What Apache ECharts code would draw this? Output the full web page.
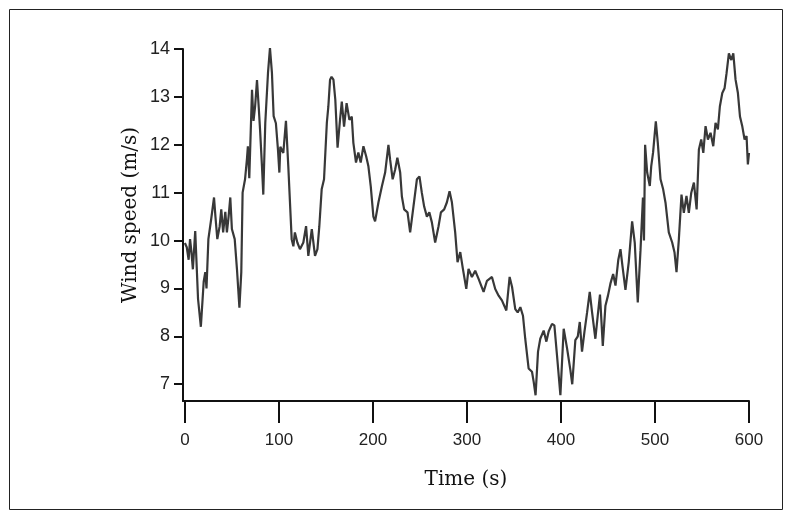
<!DOCTYPE html>
<html>
<head>
<meta charset="utf-8">
<script src="https://cdn.jsdelivr.net/npm/echarts@6/dist/echarts.min.js"></script>
<style>
html,body{margin:0;padding:0;background:#fff;}
#chart{width:792px;height:519px;}
</style>
</head>
<body>
<div id="chart"></div>
<script>
// Time (s)
var timeSec = [0,2,4,5.5,7,8.5,11,14,17,20,21.7,23,25,28,31,32.5,34.5,37,38.7,40.7,43,44.7,46.5,48.3,50,53,55.4,58,60,61.4,64,66,67,68.5,71.4,73,74.7,76.7,78.5,80,82,83.4,85.5,88.4,90.5,92.6,94.4,96.8,99,100.5,101.5,104.7,107.5,110,113.6,115.4,117,119.6,122.4,126,128.9,131.3,135,138.4,141,143,145.5,148,151,152.6,154.4,156,158,160,162.4,165,166.9,169.3,172,175,177.5,179.2,182,184.5,187,189.9,192.8,195.2,197.7,200.5,202.3,205.9,209.5,213,216.5,218.3,221,223.6,226,229,230.8,233.2,236.8,239.6,243.1,246.8,249.5,252,254.5,257.4,260,262.7,266.2,269.8,272.3,275.8,278.7,281.5,284,287.5,290,292.9,295.7,299.3,301.7,305.3,308.8,312.4,317.7,321.3,326.6,330.1,333.7,337.2,341.9,345.4,348,351.4,354,356.8,359.6,362,365.6,369.2,371,373,375.6,378,381.6,384.5,386.9,390.5,393,395.8,399.4,402.9,406.5,410,412,415.3,417.9,420,422.4,425,427.8,430.6,433.1,436.6,439.1,441.5,444.5,447.3,450,452.6,455.5,458,461,463.3,465.4,468.6,472.1,475.7,478.5,481.7,484.6,487.2,488.3,489.5,491.7,494.5,496,498,500.9,503,505.9,508.7,511.2,514.7,518.3,520.8,522.9,525.4,528.2,530.7,533.5,536,538.6,541.4,544.3,546.7,549.2,551.4,553.8,556.3,559.1,562,564.4,566.9,569,571.6,574,576.1,578.6,581.2,583.3,585.7,588.2,590.4,592.9,595.3,597.4,598.8,600];
// Wind speed (m/s)
var windSpeed = [9.95,9.86,9.6,10.03,9.76,9.4,10.2,8.78,8.2,9.14,9.34,9.0,10.03,10.45,10.9,10.5,10.03,10.3,10.65,10.17,10.6,10.17,10.5,10.9,10.24,10.03,9.4,8.6,9.34,11.0,11.28,11.7,11.97,11.3,13.15,12.5,12.8,13.35,12.8,12.3,11.55,10.96,12.45,13.5,14.02,13.5,12.6,12.45,11.9,11.42,11.96,11.83,12.5,11.55,10.03,9.88,10.17,9.96,9.82,9.96,10.3,9.68,10.24,9.68,9.82,10.3,11.07,11.28,12.46,12.8,13.36,13.42,13.36,12.94,11.94,12.52,12.9,12.38,12.87,12.52,12.59,12.04,11.63,11.84,11.63,11.97,11.76,11.55,11.13,10.5,10.4,10.8,11.13,11.42,12.0,11.69,11.28,11.48,11.73,11.42,10.92,10.65,10.59,10.17,10.71,11.28,11.34,11.0,10.71,10.5,10.59,10.38,9.96,10.3,10.59,10.65,10.8,11.03,10.8,10.17,9.55,9.76,9.41,8.99,9.41,9.24,9.37,9.2,8.93,9.16,9.24,8.99,8.85,8.75,8.54,9.24,9.03,8.57,8.5,8.61,8.43,7.95,7.33,7.26,7.05,6.77,7.68,7.95,8.12,7.89,8.1,8.26,8.23,7.6,6.77,8.16,7.75,7.3,7.0,7.92,8.0,8.3,7.68,8.1,8.5,8.93,8.5,7.95,8.43,8.87,7.8,8.64,8.85,9.1,9.3,9.06,9.6,9.82,9.47,8.97,9.55,10.4,9.95,8.71,9.8,10.9,10.0,12.0,11.42,11.14,11.55,11.84,12.49,12.04,11.28,11.07,10.79,10.17,9.96,9.75,9.34,10.03,10.96,10.58,10.93,10.58,11.0,11.21,10.65,11.9,12.11,11.83,12.39,12.11,12.25,11.97,12.46,12.32,12.8,13.08,13.18,13.49,13.91,13.77,13.91,13.36,13.08,12.59,12.38,12.11,12.18,11.59,11.83];
var xTicks = [0,100,200,300,400,500,600];
var yTicks = [7,8,9,10,11,12,13,14];

var chart = echarts.init(document.getElementById('chart'), null, {renderer:'canvas'});
var pts = timeSec.map(function(t,i){return [t, windSpeed[i]];});
chart.setOption({
  animation:false,
  backgroundColor:'#ffffff',
  grid:{left:183, right:43, top:49, bottom:118, containLabel:false},
  xAxis:{
    type:'value', min:-2, max:600,
    axisLine:{show:true, onZero:false, lineStyle:{color:'#111', width:2}},
    axisTick:{show:true, length:22, inside:false, customValues:xTicks, lineStyle:{color:'#111', width:2}},
    axisLabel:{customValues:xTicks, margin:31, color:'#222', fontFamily:'Liberation Sans', fontSize:17},
    splitLine:{show:false}
  },
  yAxis:{
    type:'value', min:6.65, max:14,
    axisLine:{show:true, onZero:false, lineStyle:{color:'#111', width:2}},
    axisTick:{show:true, length:9, customValues:yTicks, lineStyle:{color:'#111', width:2}},
    axisLabel:{customValues:yTicks, margin:13, color:'#222', fontFamily:'Liberation Sans', fontSize:18},
    splitLine:{show:false}
  },
  series:[{
    type:'line', data:pts, showSymbol:false, symbol:'none',
    lineStyle:{color:'#383838', width:2.2}
  }],
  graphic:[
    {type:'rect', shape:{x:9.5, y:9.5, width:773, height:500}, style:{fill:null, stroke:'#222', lineWidth:1}},
    {type:'text', x:131, y:215, rotation:Math.PI/2, style:{text:'Wind speed (m/s)', font:'20px "DejaVu Serif"', fill:'#111', align:'center', verticalAlign:'middle'}},
    {type:'text', x:466, y:480, style:{text:'Time (s)', font:'20px "DejaVu Serif"', fill:'#111', align:'center', verticalAlign:'middle'}}
  ]
});
</script>
</body>
</html>
